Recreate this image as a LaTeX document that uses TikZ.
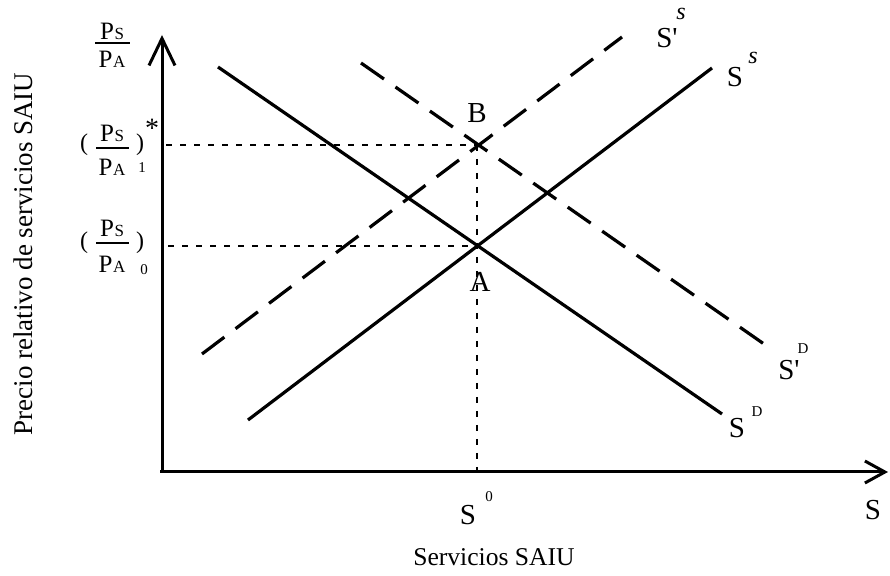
\documentclass[tikz,border=0pt]{standalone}
\usepackage{fontspec}
\setmainfont{Liberation Serif}
\usetikzlibrary{arrows.meta}
\begin{document}
\begin{tikzpicture}[x=0.5pt,y=-0.5pt,
  axisline/.style={line width=1.5pt},
  curve/.style={line width=1.6pt},
  dcurve/.style={line width=1.6pt,dash pattern=on 14pt off 7pt},
  guide/.style={line width=0.8pt,dash pattern=on 3pt off 4pt},
  lbl/.style={inner sep=0pt,font=\fontsize{14.5pt}{16pt}\selectfont},
  sup/.style={inner sep=0pt,font=\fontsize{7.5pt}{9pt}\selectfont},
  ssup/.style={inner sep=0pt,font=\fontsize{12pt}{14pt}\selectfont\itshape},
  frac/.style={inner sep=0pt,font=\fontsize{12.5pt}{14pt}\selectfont},
  par/.style={inner sep=0pt,font=\fontsize{12pt}{14pt}\selectfont},
  small/.style={inner sep=0pt,font=\fontsize{7.5pt}{9pt}\selectfont},
  title/.style={inner sep=0pt,font=\fontsize{12.8pt}{15pt}\selectfont},
  fbar/.style={line width=1.3pt}]
\useasboundingbox (0,0) rectangle (890,576);
\newcommand{\PS}{P\kern0.3pt{\fontsize{8.5pt}{9pt}\selectfont S}}
\newcommand{\PA}{P\kern0.3pt{\fontsize{8.5pt}{9pt}\selectfont A}}
\newcommand{\Sp}{S\textquotesingle}
% axes
\coordinate (O) at (162,472);
\coordinate (ytip) at (162,35);
\coordinate (xtip) at (888,472);
\draw[axisline,-{Straight Barb[length=13.5pt,width=13pt]}] (O) -- (ytip);
\draw[axisline,-{Straight Barb[length=10pt,width=11pt]}] (160,472) -- (xtip);
% equilibrium points
\coordinate (A) at (477,246);
\coordinate (B) at (477,145);
\coordinate (Aax) at (477,472);
\coordinate (Ay) at (168,246);
\coordinate (By) at (166,145);
% guides
\draw[guide] (By) -- (B);
\draw[guide] (Ay) -- (A);
\draw[guide] (B) -- (Aax);
% curves
\coordinate (sd1) at (218,67);
\coordinate (sd2) at (722,414);
\coordinate (ss1) at (248,420);
\coordinate (ss2) at (712,68);
\coordinate (sps1) at (202,354);
\coordinate (sps2) at (622,37);
\coordinate (spd1) at (361,63);
\coordinate (spd2) at (764,344);
\draw[curve] (sd1) -- (sd2);
\draw[curve] (ss1) -- (ss2);
\draw[dcurve] (sps1) -- (sps2);
\draw[dcurve] (spd1) -- (spd2);
% point labels
\node[lbl] (lB) at (477,113) {B};
\node[lbl] (lA) at (480,282) {A};
% curve labels
\node[lbl] (lsps) at (667,38) {\Sp};
\node[ssup] (lsps2) at (681,14) {s};
\node[lbl] (lss) at (735,77) {S};
\node[ssup] (lss2) at (753,58) {s};
\node[lbl] (lspd) at (789,370) {\Sp};
\node[sup] (lspd2) at (803,349) {D};
\node[lbl] (lsd) at (737,428) {S};
\node[sup] (lsd2) at (757,412) {D};
% x axis labels
\node[lbl] (ls0) at (468,515) {S};
\node[sup] (ls02) at (489,497) {0};
\node[lbl] (lsx) at (873,510) {S};
\node[title] (xt) at (494,557) {Servicios SAIU};
\node[title,font=\fontsize{13.5pt}{15pt}\selectfont,rotate=90] (yt) at (23,254) {Precio relativo de servicios SAIU};
% y axis fraction labels
\node[frac] (n0) at (112,31) {\PS};
\draw[fbar] (95,43) -- (130,43);
\node[frac] (d0) at (112,59) {\PA};
% (Ps/PA)*_1
\node[frac] (n1) at (112,133) {\PS};
\draw[fbar] (96,148) -- (129,148);
\node[frac] (d1) at (112,167) {\PA};
\node[par] (lp1) at (84,145) {(};
\node[par] (rp1) at (140,145) {)};
\node[frac,font=\fontsize{14pt}{15pt}\selectfont] (st1) at (152,128) {*};
\node[small] (i1) at (142,168) {1};
% (Ps/PA)_0
\node[frac] (n2) at (112,228) {\PS};
\draw[fbar] (96,243) -- (129,243);
\node[frac] (d2) at (112,264) {\PA};
\node[par] (lp2) at (84,243) {(};
\node[par] (rp2) at (140,243) {)};
\node[small] (i2) at (144,270) {0};
\end{tikzpicture}
\end{document}
